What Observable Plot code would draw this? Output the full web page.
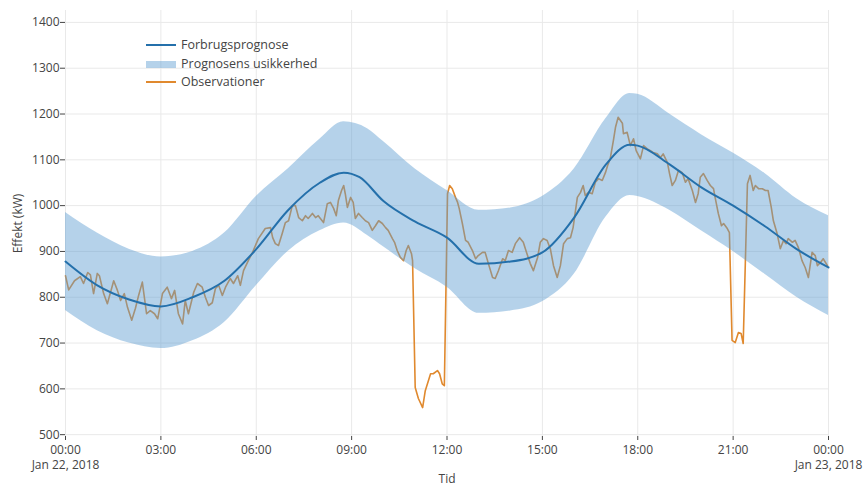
<!DOCTYPE html>
<html>
<head>
<meta charset="utf-8">
<script src="https://cdn.jsdelivr.net/npm/d3@7"></script>
<script src="https://cdn.jsdelivr.net/npm/@observablehq/plot@0.6"></script>
<style>
  html, body { margin: 0; padding: 0; background: #fff; }
  #wrap { position: relative; width: 868px; height: 494px; font-family: "Open Sans", sans-serif; }
  #legend { position: absolute; left: 146px; top: 36px; font-size: 12.5px; color: #444; line-height: 18.5px; }
  #legend div { display: flex; align-items: center; height: 18.5px; }
  #legend svg { margin-right: 5px; }
</style>
</head>
<body>
<div id="wrap">
  <div id="chart"></div>
  <div id="legend"></div>
</div>
<script>
// ---- Data ----
const seriesNames = ["Forbrugsprognose", "Prognosens usikkerhed", "Observationer"];

// Forecast (hours since 2018-01-22 00:00, kW)
const fcHours = [0, 1, 2, 3, 4, 5, 6, 7, 8, 8.75, 9.25, 10, 11, 12, 13, 14, 15, 16, 17, 17.75, 18, 19, 20, 21, 22, 23, 24];
const fcKW    = [878, 826, 795, 780, 800, 836, 905, 990, 1050, 1072, 1062, 1010, 965, 930, 873, 878, 898, 974, 1090, 1133, 1131, 1090, 1040, 1000, 955, 905, 865];

// Uncertainty band
const bandHours = [0, 1, 2, 3, 4, 5, 6, 7, 8, 8.75, 9.5, 10, 11, 12, 13, 14, 15, 16, 17, 17.75, 18, 19, 20, 21, 22, 23, 24];
const bandUpper = [985, 940, 905, 888, 900, 940, 1020, 1080, 1145, 1183, 1168, 1140, 1080, 1033, 990, 995, 1020, 1080, 1190, 1245, 1243, 1200, 1155, 1115, 1070, 1015, 978];
const bandLower = [771, 727, 700, 688, 705, 745, 825, 900, 945, 962, 935, 910, 862, 822, 765, 770, 790, 850, 975, 1022, 1020, 990, 945, 900, 850, 800, 760];

// Observations (minutes since 2018-01-22 00:00, kW)
const obsMinutes = [0,6,17,28,34,42,47,53,60,64,72,79,91,98,104,111,117,125,132,138,145,153,160,168,174,183,192,200,206,213,221,226,232,242,249,258,264,270,277,283,289,296,302,311,317,325,330,336,345,353,364,377,387,391,396,402,409,415,421,428,434,440,447,453,458,466,472,477,481,487,494,500,506,511,515,521,525,528,532,538,543,547,553,560,566,572,579,585,591,598,604,609,617,621,626,632,638,643,647,653,655,660,666,674,679,689,694,702,706,711,715,721,725,730,736,740,743,749,755,760,768,774,779,787,792,798,806,811,817,825,830,836,843,849,857,864,870,877,883,891,896,902,909,915,921,928,934,940,947,953,958,966,972,977,981,987,994,1000,1006,1013,1019,1023,1028,1034,1038,1043,1051,1053,1060,1066,1072,1077,1085,1091,1098,1104,1109,1117,1123,1128,1136,1140,1145,1151,1157,1164,1170,1175,1183,1189,1194,1198,1204,1211,1217,1223,1226,1232,1238,1242,1249,1253,1258,1264,1270,1275,1279,1287,1292,1298,1302,1308,1315,1321,1326,1332,1336,1343,1349,1355,1360,1364,1372,1377,1383,1390,1396,1402,1409,1415,1419,1425,1430,1438];
const obsKW = [847,816,836,845,830,854,849,808,852,847,808,786,836,815,793,808,778,750,776,804,833,764,771,764,753,808,822,797,815,764,742,793,764,811,830,822,800,782,788,819,826,804,822,841,830,847,826,858,880,898,928,950,952,930,917,913,939,963,967,1000,1000,974,967,978,972,983,974,978,972,963,1004,1007,994,978,1011,1033,1044,1026,996,1018,1007,972,983,974,967,963,946,956,967,961,952,946,928,920,902,887,880,902,913,895,880,603,579,559,596,633,633,640,633,611,607,1026,1044,1037,1018,1007,994,961,924,920,902,884,891,898,898,874,843,841,858,884,880,902,898,917,930,920,898,874,858,887,920,928,924,906,869,843,869,917,928,930,952,1018,1029,1044,1022,1029,1026,1051,1059,1055,1072,1087,1102,1142,1171,1193,1180,1157,1160,1131,1146,1120,1102,1131,1124,1120,1116,1113,1105,1113,1094,1070,1044,1055,1077,1072,1051,1059,1033,1007,1026,1062,1070,1055,1044,1037,1018,983,956,961,950,941,706,701,723,721,699,1048,1066,1033,1044,1037,1037,1033,1033,996,967,939,906,924,917,928,920,924,909,880,865,843,898,891,869,876,884,869];

// Axis ticks
const yTicks = [500, 600, 700, 800, 900, 1000, 1100, 1200, 1300, 1400];
const xTickHours = [0, 3, 6, 9, 12, 15, 18, 21, 24];

// ---- Build ----
const T0 = Date.UTC(2018, 0, 22);
const atMin = m => new Date(T0 + m * 60000);
const xTicks = xTickHours.map(h => atMin(h * 60));
const fc = fcHours.map((h, i) => ({t: atMin(h * 60), v: fcKW[i]}));
const band = bandHours.map((h, i) => ({t: atMin(h * 60), lo: bandLower[i], hi: bandUpper[i]}));
const obs = obsMinutes.map((m, i) => ({t: atMin(m), v: obsKW[i]}));

const colFc = "#2470ab";
const colBand = "#5b9bd0";
const bandOpacity = 0.45;
const colObs = "#e0892e";

const fmtTime = d3.utcFormat("%H:%M");
const fmtDay = d3.utcFormat("%b %-d, %Y");
const tickFmt = d => d.getUTCHours() === 0 ? fmtTime(d) + "\n" + fmtDay(d) : fmtTime(d);

const chart = Plot.plot({
  width: 868,
  height: 494,
  marginLeft: 65,
  marginRight: 40,
  marginTop: 10,
  marginBottom: 58,
  style: {fontFamily: "'Open Sans', sans-serif", fontSize: "12px", color: "#444", background: "white", overflow: "visible"},
  x: {type: "utc", domain: [atMin(0), atMin(1440)]},
  y: {domain: [496, 1426]},
  marks: [
    Plot.gridY(yTicks, {stroke: "#e9e9e9", strokeOpacity: 1}),
    Plot.gridX(xTicks, {stroke: "#e9e9e9", strokeOpacity: 1}),
    Plot.line(obs, {x: "t", y: "v", stroke: colObs, strokeWidth: 1.6}),
    Plot.areaY(band, {x: "t", y1: "lo", y2: "hi", fill: colBand, fillOpacity: bandOpacity, curve: "monotone-x"}),
    Plot.line(fc, {x: "t", y: "v", stroke: colFc, strokeWidth: 2, curve: "monotone-x"}),
    Plot.axisY(yTicks, {tickSize: 5, tickPadding: 1, tickFormat: d3.format("d"), label: "Effekt (kW)", labelAnchor: "center", labelOffset: 52, labelArrow: "none", fontSize: 12}),
    Plot.axisX(xTicks, {tickSize: 4, tickPadding: 2, tickFormat: tickFmt, lineHeight: 1.3, label: "Tid", labelAnchor: "center", labelOffset: 46, labelArrow: "none", fontSize: 12})
  ]
});
document.getElementById("chart").appendChild(chart);

// Legend
const legend = document.getElementById("legend");
const swatches = [
  `<svg width="30" height="10"><line x1="0" x2="30" y1="5" y2="5" stroke="${colFc}" stroke-width="2"/></svg>`,
  `<svg width="30" height="10"><rect x="0" y="2" width="30" height="7" fill="${colBand}" fill-opacity="${bandOpacity}"/></svg>`,
  `<svg width="30" height="10"><line x1="0" x2="30" y1="5" y2="5" stroke="${colObs}" stroke-width="2"/></svg>`
];
seriesNames.forEach((name, i) => {
  const row = document.createElement("div");
  row.innerHTML = swatches[i] + `<span>${name}</span>`;
  legend.appendChild(row);
});
</script>
</body>
</html>
